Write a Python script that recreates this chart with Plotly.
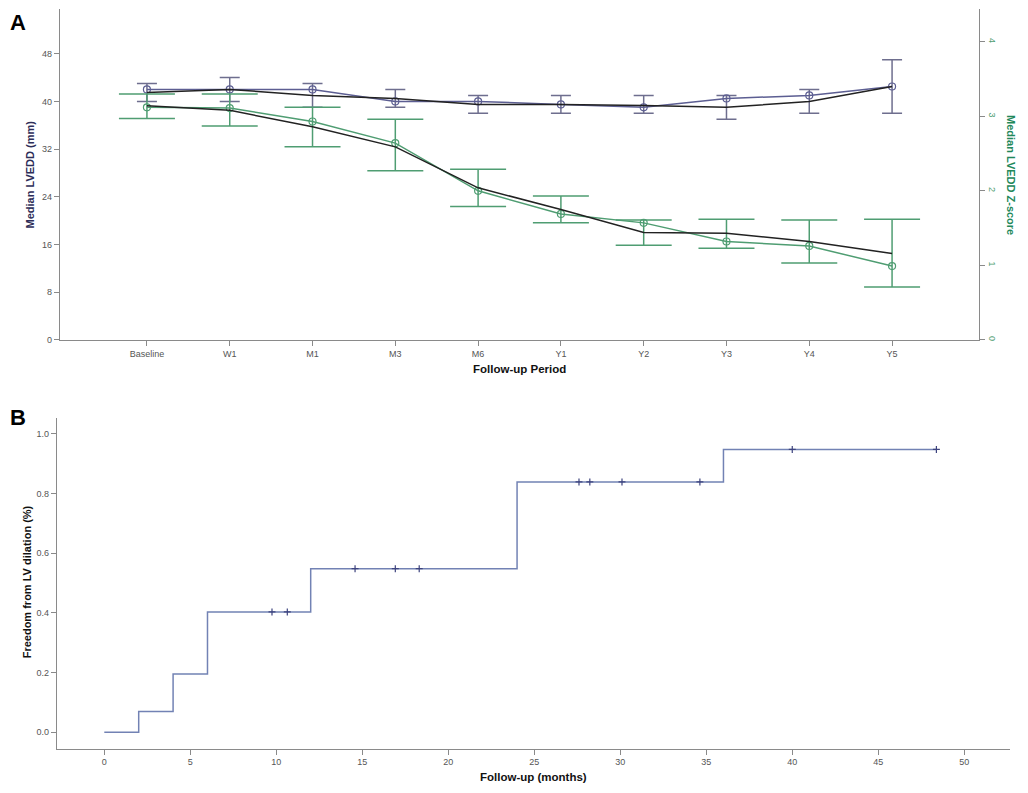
import plotly.graph_objects as go
import numpy as np

# ---- panel A: LVEDD over follow-up ----
periods = ["Baseline", "W1", "M1", "M3", "M6", "Y1", "Y2", "Y3", "Y4", "Y5"]

lvedd_median = [42, 42, 42, 40, 40, 39.5, 39, 40.5, 41, 42.5]
lvedd_hi = [43, 44, 43, 42, 41, 41, 41, 41, 42, 47]
lvedd_lo = [40, 40, 39, 39, 38, 38, 38, 37, 38, 38]
lvedd_trend = [41.5, 42, 41, 40.5, 39.5, 39.5, 39.3, 39, 40, 42.5]

z_median = [3.12, 3.11, 2.93, 2.64, 2.00, 1.69, 1.57, 1.32, 1.26, 0.99]
z_hi = [3.30, 3.30, 3.12, 2.96, 2.29, 1.93, 1.61, 1.62, 1.61, 1.62]
z_lo = [2.97, 2.87, 2.59, 2.27, 1.79, 1.57, 1.27, 1.23, 1.03, 0.71]
z_trend = [3.14, 3.08, 2.86, 2.59, 2.04, 1.75, 1.44, 1.43, 1.32, 1.16]

# ---- panel B: freedom from LV dilation (KM steps) ----
km_months = [0, 2, 4, 6, 12, 24, 36, 48.4]
km_freedom = [0, 0.069, 0.195, 0.403, 0.548, 0.839, 0.948, 0.948]
censor_months = [9.75, 10.64, 14.58, 16.92, 18.31, 27.6, 28.23, 30.1, 34.63, 40.0, 48.38]

navy = "#5c5e92"
green = "#4f9d72"
axis_grey = "#8a8a8a"
tick_font = dict(family="Liberation Sans, Arial", size=9, color="#555555")
title_font = dict(family="Liberation Sans, Arial", size=11, color="#111111")

# page has an 8px body margin, so the figure is 8px smaller and positions shifted
W, H, OFF = 1020, 785, 8
px = lambda p: (p - OFF) / W
py = lambda p: 1 - (p - OFF) / H

fig = go.Figure()

# green z-score series (right axis)
fig.add_trace(go.Scatter(
    x=periods, y=z_median, xaxis="x", yaxis="y2",
    mode="lines+markers",
    line=dict(color=green, width=1.5),
    marker=dict(symbol="circle-open", size=7, color=green, line=dict(width=1.2)),
    error_y=dict(type="data", symmetric=False,
                 array=np.array(z_hi) - np.array(z_median),
                 arrayminus=np.array(z_median) - np.array(z_lo),
                 color=green, thickness=1.5, width=28),
    showlegend=False,
))
fig.add_trace(go.Scatter(
    x=periods, y=z_trend, xaxis="x", yaxis="y2", mode="lines",
    line=dict(color="#222222", width=1.5), showlegend=False,
))

# navy LVEDD series (left axis)
fig.add_trace(go.Scatter(
    x=periods, y=lvedd_median, xaxis="x", yaxis="y",
    mode="lines+markers",
    line=dict(color=navy, width=1.5),
    marker=dict(symbol="circle-open", size=7, color=navy, line=dict(width=1.2)),
    error_y=dict(type="data", symmetric=False,
                 array=np.array(lvedd_hi) - np.array(lvedd_median),
                 arrayminus=np.array(lvedd_median) - np.array(lvedd_lo),
                 color="#6e6e8e", thickness=1.5, width=10),
    showlegend=False,
))
fig.add_trace(go.Scatter(
    x=periods, y=lvedd_trend, xaxis="x", yaxis="y", mode="lines",
    line=dict(color="#222222", width=1.5), showlegend=False,
))

# KM step curve
fig.add_trace(go.Scatter(
    x=km_months, y=km_freedom, xaxis="x3", yaxis="y3",
    mode="lines", line=dict(color="#7282b4", width=1.5, shape="hv"),
    showlegend=False,
))
idx = np.searchsorted(km_months, censor_months, side="right") - 1
fig.add_trace(go.Scatter(
    x=censor_months, y=[km_freedom[i] for i in idx], xaxis="x3", yaxis="y3",
    mode="markers",
    marker=dict(symbol="cross-thin-open", size=5, color="#3d437e", line=dict(width=1.2)),
    showlegend=False,
))

ax = dict(showline=True, linecolor=axis_grey, linewidth=1.2, showgrid=False,
          zeroline=False, ticks="outside", ticklen=5, tickcolor=axis_grey,
          tickfont=tick_font)

fig.update_layout(
    width=W, height=H,
    margin=dict(l=0, r=0, t=0, b=0),
    paper_bgcolor="white", plot_bgcolor="white",
    xaxis=dict(ax, domain=[px(60), px(979)], type="category",
               categoryorder="array", categoryarray=periods,
               range=[-1.05, 10.05], anchor="y"),
    yaxis=dict(ax, domain=[py(342), py(9)], range=[0, 55.5],
               tick0=0, dtick=8, anchor="x"),
    yaxis2=dict(ax, overlaying="y", side="right", anchor="x",
                range=[0, 4.44], tick0=0, dtick=1, tickangle=90,
                tickfont=dict(tick_font, color=green)),
    xaxis3=dict(ax, domain=[px(57), px(1010)], range=[-2.75, 52.66],
                tick0=0, dtick=5, anchor="y3"),
    yaxis3=dict(ax, domain=[py(753.3), py(420.7)], range=[-0.055, 1.053],
                tick0=0, dtick=0.2, tickformat=".1f", anchor="x3"),
)

bold = lambda s: "<b>" + s + "</b>"
annotations = [
    dict(text=bold("A"), x=0, y=1, xanchor="left", yanchor="top",
         font=dict(family="Liberation Sans", size=22, color="black")),
    dict(text=bold("B"), x=0, y=py(420.5), xanchor="left",
         font=dict(family="Liberation Sans", size=22, color="black")),
    dict(text=bold("Follow-up Period"), x=px(519.5), y=py(371), font=dict(title_font, size=11.5)),
    dict(text=bold("Median LVEDD (mm)"), x=px(30), y=py(175.5), textangle=-90,
         font=dict(title_font, color="#2d2d58")),
    dict(text=bold("Median LVEDD Z-score"), x=px(1011.7), y=py(175.8), textangle=90,
         font=dict(title_font, color="#22885a")),
    dict(text=bold("Freedom from LV dilation (%)"), x=px(27), y=py(586), textangle=-90,
         font=title_font),
    dict(text=bold("Follow-up (months)"), x=px(533.5), y=py(781.7), font=dict(title_font, size=11.5)),
]
for a in annotations:
    a.setdefault("yanchor", "middle")
    a.setdefault("xanchor", "center")
    a.update(xref="paper", yref="paper", showarrow=False)
fig.update_layout(annotations=annotations)

fig.write_html("out.html")
